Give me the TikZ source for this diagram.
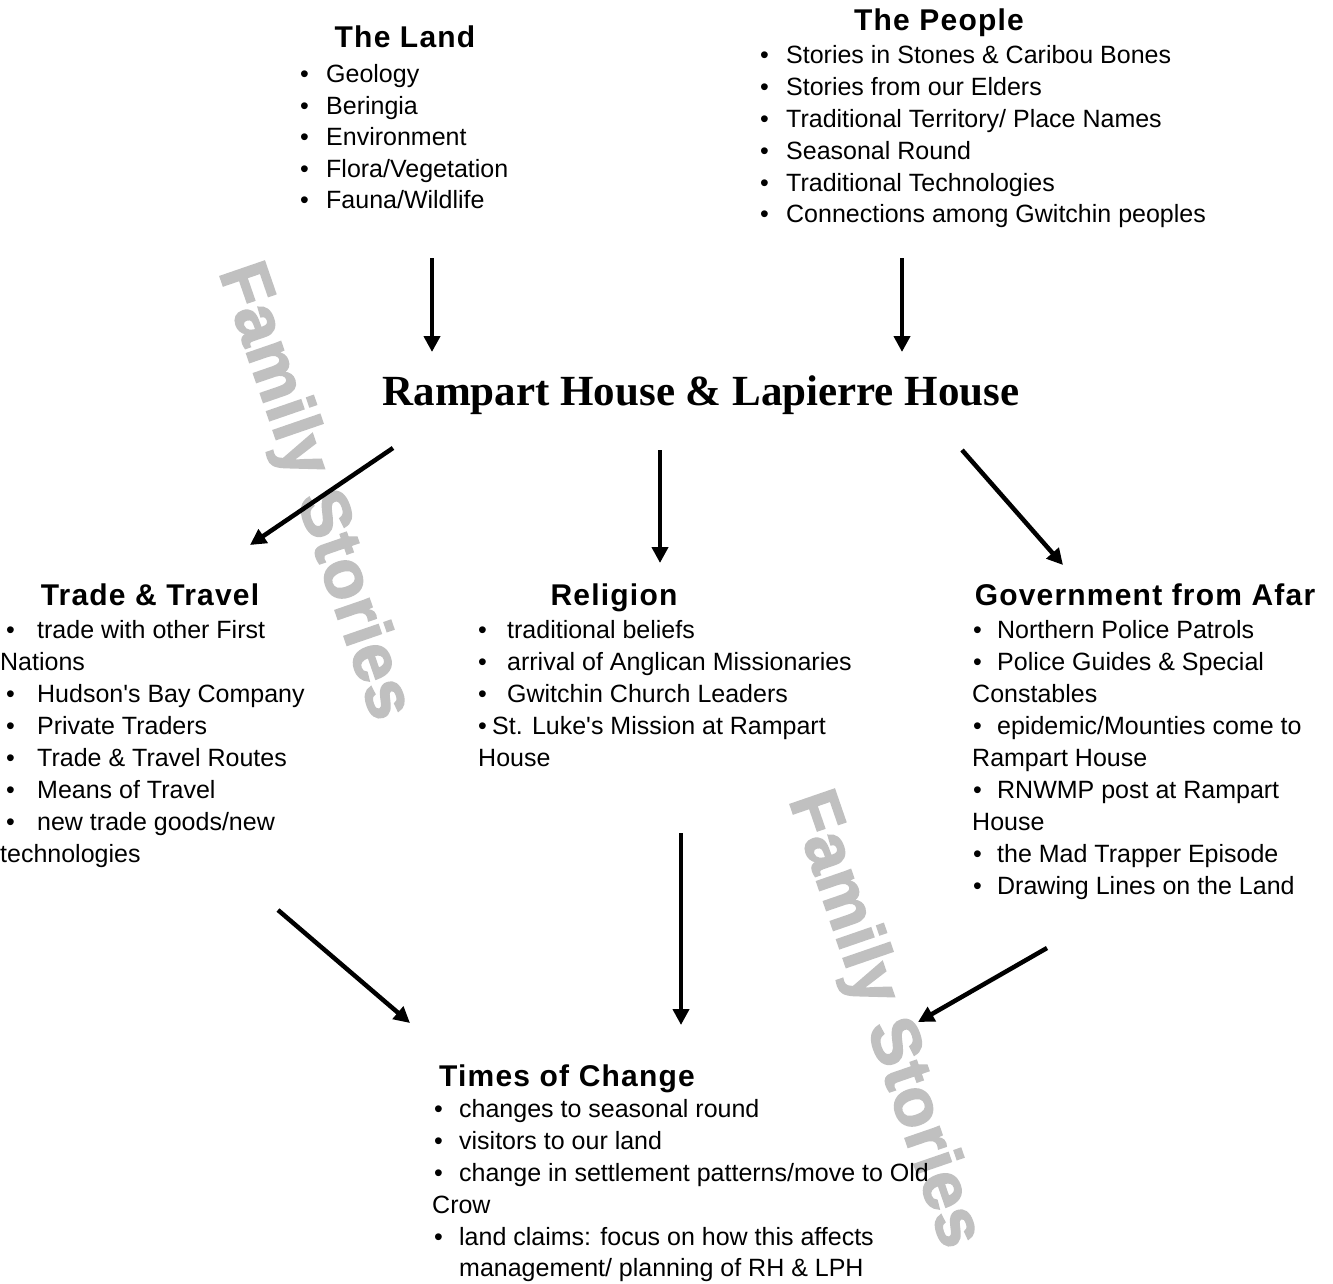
\documentclass[tikz,border=0pt]{standalone}
\usepackage{fontspec}
\setmainfont{Liberation Sans}
\newfontfamily\hfont{Liberation Sans}[LetterSpace=4]
\newfontfamily\wmfont{Liberation Sans Bold}[LetterSpace=1.5,FakeBold=2.5]
\newfontfamily\tfont{Liberation Serif}
\usetikzlibrary{arrows.meta}
\definecolor{wmgray}{RGB}{192,192,192}
\newcommand\myb[1]{\makebox[#1pt][l]{•}}
\newcommand\ap{\textquotesingle}
\begin{document}
\begin{tikzpicture}[x=1pt,y=-1pt,
  txt/.style={anchor=base west,inner sep=0pt,font=\fontsize{25}{30}\selectfont},
  head/.style={anchor=base,inner sep=0pt,font=\hfont\bfseries\fontsize{30}{34}\selectfont},
  wm/.style={inner sep=0pt,text=wmgray,font=\wmfont\fontsize{68}{72}\selectfont,rotate=-71},
  arr/.style={line width=4.5pt,-{Triangle[length=16pt,width=16pt]}}]
\useasboundingbox (0,0) rectangle (1333,1283);
\fill[white] (0,0) rectangle (1333,1283);
% watermarks
\node[wm] (wm1) at (313,492) {Family Stories};
\node[wm] (wm2) at (883,1020) {Family Stories};
% The Land
\node[head] (landh) at (405,47) {The Land};
\node[txt] (l1) at (300,82) {\myb{26}Geology};
\node[txt] (l2) at (300,114) {\myb{26}Beringia};
\node[txt] (l3) at (300,145) {\myb{26}Environment};
\node[txt] (l4) at (300,177) {\myb{26}Flora/Vegetation};
\node[txt] (l5) at (300,208) {\myb{26}Fauna/Wildlife};
% The People
\node[head] (peoh) at (939,30) {The People};
\node[txt] (p1) at (760,63) {\myb{26}Stories in Stones \& Caribou Bones};
\node[txt] (p2) at (760,95) {\myb{26}Stories from our Elders};
\node[txt] (p3) at (760,127) {\myb{26}Traditional Territory/ Place Names};
\node[txt] (p4) at (760,159) {\myb{26}Seasonal Round};
\node[txt] (p5) at (760,191) {\myb{26}Traditional Technologies};
\node[txt] (p6) at (760,222) {\myb{26}Connections among Gwitchin peoples};
% Title
\node[anchor=base,inner sep=0pt,font=\tfont\bfseries\fontsize{43}{48}\selectfont] (title) at (701,405) {Rampart House \& Lapierre House};
% Trade & Travel
\node[head] (trh) at (150,605) {Trade \& Travel};
\node[txt] (t1) at (6,638) {\myb{31}trade with other First};
\node[txt] (t2) at (0,670) {Nations};
\node[txt] (t3) at (6,702) {\myb{31}Hudson\ap s Bay Company};
\node[txt] (t4) at (6,734) {\myb{31}Private Traders};
\node[txt] (t5) at (6,766) {\myb{31}Trade \& Travel Routes};
\node[txt] (t6) at (6,798) {\myb{31}Means of Travel};
\node[txt] (t7) at (6,830) {\myb{31}new trade goods/new};
\node[txt] (t8) at (0,862) {technologies};
% Religion
\node[head] (relh) at (614,605) {Religion};
\node[txt] (r1) at (478,638) {\myb{29}traditional beliefs};
\node[txt] (r2) at (478,670) {\myb{29}arrival of Anglican Missionaries};
\node[txt] (r3) at (478,702) {\myb{29}Gwitchin Church Leaders};
\node[txt] (r4) at (478,734) {\myb{14}St. Luke\ap s Mission at Rampart};
\node[txt] (r5) at (478,766) {House};
% Government from Afar
\node[head] (govh) at (1145,605) {Government from Afar};
\node[txt] (g1) at (973,638) {\myb{24}Northern Police Patrols};
\node[txt] (g2) at (973,670) {\myb{24}Police Guides \& Special};
\node[txt] (g3) at (972,702) {Constables};
\node[txt] (g4) at (973,734) {\myb{24}epidemic/Mounties come to};
\node[txt] (g5) at (972,766) {Rampart House};
\node[txt] (g6) at (973,798) {\myb{24}RNWMP post at Rampart};
\node[txt] (g7) at (972,830) {House};
\node[txt] (g8) at (973,862) {\myb{24}the Mad Trapper Episode};
\node[txt] (g9) at (973,894) {\myb{24}Drawing Lines on the Land};
% Times of Change
\node[head] (timh) at (567,1086) {Times of Change};
\node[txt] (c1) at (434,1117) {\myb{25}changes to seasonal round};
\node[txt] (c2) at (434,1149) {\myb{25}visitors to our land};
\node[txt] (c3) at (434,1181) {\myb{25}change in settlement patterns/move to Old};
\node[txt] (c4) at (432,1213) {Crow};
\node[txt] (c5) at (434,1245) {\myb{25}land claims: focus on how this affects};
\node[txt] (c6) at (459,1276) {management/ planning of RH \& LPH};
% arrow end points
\coordinate (a1s) at (432,258); \coordinate (a1e) at (432,352);
\coordinate (a2s) at (902,258); \coordinate (a2e) at (902,352);
\coordinate (a3s) at (393,448); \coordinate (a3e) at (250,545);
\coordinate (a4s) at (660,450); \coordinate (a4e) at (660,563);
\coordinate (a5s) at (962,450); \coordinate (a5e) at (1063,565);
\coordinate (a6s) at (278,910); \coordinate (a6e) at (410,1023);
\coordinate (a7s) at (681,833); \coordinate (a7e) at (681,1025);
\coordinate (a8s) at (1047,948); \coordinate (a8e) at (918,1022);
\draw[arr] (a1s) -- (a1e);
\draw[arr] (a2s) -- (a2e);
\draw[arr] (a3s) -- (a3e);
\draw[arr] (a4s) -- (a4e);
\draw[arr] (a5s) -- (a5e);
\draw[arr] (a6s) -- (a6e);
\draw[arr] (a7s) -- (a7e);
\draw[arr] (a8s) -- (a8e);
\end{tikzpicture}
\end{document}
